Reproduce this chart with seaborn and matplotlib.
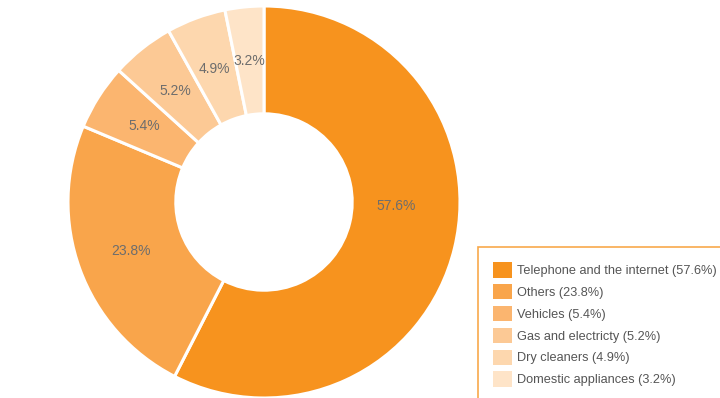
import matplotlib
matplotlib.use("Agg")
import numpy as np
import matplotlib.pyplot as plt
import seaborn as sns

categories = ["Telephone and the internet", "Others", "Vehicles",
              "Gas and electricty", "Dry cleaners", "Domestic appliances"]
values = [57.6, 23.8, 5.4, 5.2, 4.9, 3.2]
hex_colors = ["#F7931E", "#F9A54B", "#FBB56F", "#FCC995", "#FDD7AE", "#FEE4C8"]

sns.set_theme(style="white")
plt.rcParams["font.family"] = ["Liberation Sans", "DejaVu Sans"]
palette = sns.color_palette(hex_colors)

fig = plt.figure(figsize=(7.2, 3.98), dpi=100)
ax = fig.add_axes([68 / 720, 0.0, 392 / 720, 392 / 398])

wedges, texts = ax.pie(
    values, colors=palette, startangle=90, counterclock=False,
    wedgeprops=dict(width=0.55, edgecolor="white", linewidth=2.2))

# percentage labels inside the ring
for i, (w, v) in enumerate(zip(wedges, values)):
    ang = np.deg2rad((w.theta1 + w.theta2) / 2)
    r = 0.725
    if i == 0:
        ang = np.deg2rad(-1.7)
        r = 0.675
    ax.text(r * np.cos(ang), r * np.sin(ang), f"{v}%", ha="center",
            va="center", color="#6d6d6d", fontsize=10)

ax.set_xlim(-1, 1)
ax.set_ylim(-1, 1)
ax.set_aspect("equal")

labels = [f"{c} ({v}%)" for c, v in zip(categories, values)]
leg = fig.legend(wedges, labels, loc="upper left",
                 bbox_to_anchor=(478 / 720, 1 - 247 / 398),
                 frameon=True, fancybox=False, fontsize=9.2,
                 handlelength=1.45, handleheight=1.45, handletextpad=0.42,
                 labelspacing=0.52, borderpad=1.2, borderaxespad=0)
leg.get_frame().set_edgecolor("#F7931E")
leg.get_frame().set_linewidth(1.2)
for t in leg.get_texts():
    t.set_color("#555555")
for h in leg.legend_handles:
    h.set_edgecolor("none")

fig.savefig("out.png", dpi=100)
